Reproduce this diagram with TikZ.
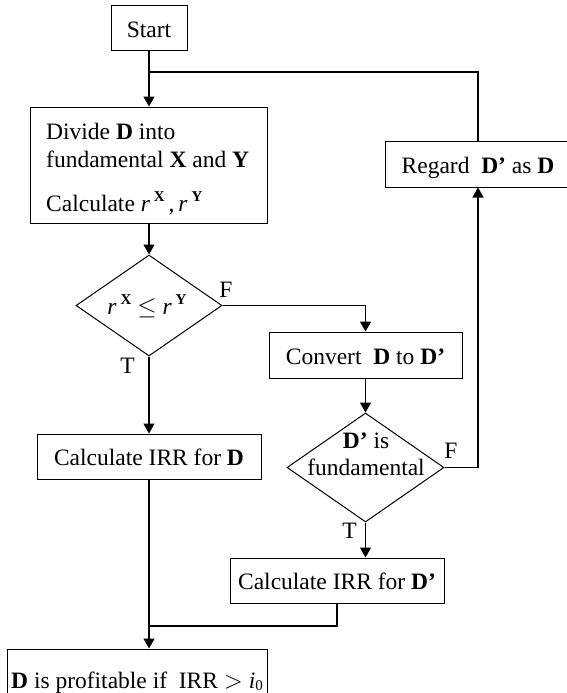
\documentclass[tikz,border=0pt]{standalone}
\usepackage{fontspec}
\setmainfont{Liberation Serif}
\usetikzlibrary{arrows.meta,shapes.geometric}
\newcommand{\supX}[1]{\raisebox{0.42em}{\fontsize{15}{15}\selectfont\textbf{#1}}}
\begin{document}
\begin{tikzpicture}[x=1pt,y=-1pt,
  every node/.style={font=\fontsize{23.5}{28}\selectfont},
  box/.style={draw,line width=1pt,inner sep=0pt,text height=21pt,text depth=3pt},
  dec/.style={draw,diamond,line width=1pt,inner sep=0pt},
  lbl/.style={inner sep=0pt},
  conn/.style={line width=1.3pt},
  arr/.style={conn,-{Triangle[length=10pt,width=11pt]}}
]
\useasboundingbox (0,0) rectangle (567,693);
\clip (0,0) rectangle (567,693);

\node[box,minimum width=76pt,minimum height=45pt] (start) at (149,28.5) {Start};
\node[draw,line width=1pt,minimum width=237pt,minimum height=116pt,inner sep=0pt] (divide) at (149,165) {};
\node[lbl,anchor=base west] (t1) at (46,139) {Divide \textbf{D} into};
\node[lbl,anchor=base west] (t2) at (46,167) {fundamental \textbf{X} and \textbf{Y}};
\node[lbl,anchor=base west] (t3) at (46,211) {Calculate \textit{r}\,\supX{X}\,,\,\textit{r}\,\supX{Y}};

\node[dec,minimum width=146pt,minimum height=101pt] (d1) at (149,305.5) {};
\node[lbl,anchor=base] (d1t) at (147,314) {\textit{r}\,\supX{X} $\leq$ \textit{r}\,\supX{Y}};

\node[box,minimum width=193pt,minimum height=46pt] (convert) at (365.5,355) {Convert\ \ \textbf{D} to \textbf{D’}};

\node[dec,minimum width=157pt,minimum height=109pt] (d2) at (365.5,467.5) {};
\node[lbl,anchor=base] (d2a) at (366,448) {\textbf{D’} is};
\node[lbl,anchor=base] (d2b) at (366,475) {fundamental};

\node[box,minimum width=224pt,minimum height=45pt] (calcD) at (149,456.5) {Calculate IRR for \textbf{D}};
\node[box,minimum width=214pt,minimum height=45pt] (calcDp) at (337,580.5) {Calculate IRR for \textbf{D’}};
\node[box,minimum width=186pt,minimum height=46pt] (regard) at (478,164) {Regard\ \ \textbf{D’} as \textbf{D}};
\node[box,minimum width=260pt,minimum height=60pt,text depth=0pt,text height=18pt] (final) at (137,679) {\textbf{D} is profitable if\ \ IRR $>$ \textit{i}\raisebox{-0.1em}{\fontsize{15}{15}\selectfont 0}};

\node[lbl] (f1) at (226,289.5) {F};
\node[lbl] (tt1) at (127.5,366) {T};
\node[lbl] (f2) at (451,451) {F};
\node[lbl] (tt2) at (349.5,531) {T};

\coordinate (j1) at (149,72);
\coordinate (j2) at (149,626);

\draw[arr] (start.south) -- (start.south |- divide.north);
\draw[conn] (regard.north) |- (j1);
\draw[arr] (divide.south) -- (d1.north);
\draw[arr] (d1.east) -| (convert.north);
\draw[arr] (d1.south) -- (calcD.north);
\draw[arr] (convert.south) -- (d2.north);
\draw[arr] (d2.east) -| (regard.south);
\draw[arr] (d2.south) -- (d2.south |- calcDp.north);
\draw[conn] (calcDp.south) |- (j2);
\draw[arr] (calcD.south) -- (calcD.south |- final.north);
\end{tikzpicture}
\end{document}
